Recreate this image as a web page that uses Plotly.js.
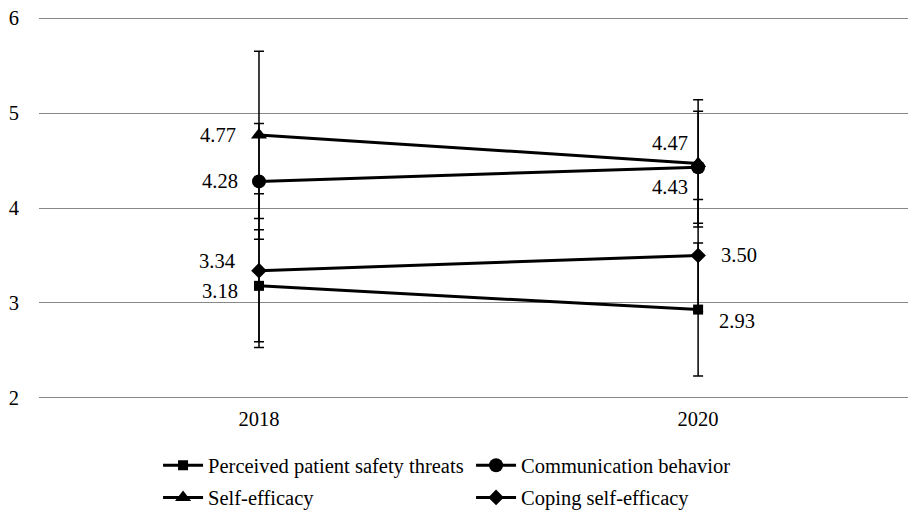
<!DOCTYPE html>
<html>
<head>
<meta charset="utf-8">
<script src="https://cdn.plot.ly/plotly-3.0.1.min.js"></script>
<style>html,body{margin:0;padding:0;background:#fff;}#chart{width:908px;height:511px;}</style>
</head>
<body>
<div id="chart"></div>
<script>
// ---- data ----
const years = ['2018', '2020'];
const seriesNames = ['Perceived patient safety threats', 'Communication behavior', 'Self-efficacy', 'Coping self-efficacy'];
const perceived = [3.18, 2.93];
const communication = [4.28, 4.43];
const selfEfficacy = [4.77, 4.47];
const coping = [3.34, 3.50];
const perceivedSD = [0.59, 0.70];
const communicationSD = [0.61, 0.59];
const selfEfficacySD = [0.88, 0.67];
const copingSD = [0.81, 0.59];
const yTicks = [2, 3, 4, 5, 6];

// ---- styles ----
const font = 'Liberation Serif';
const xIdx = years.map((_, i) => i);
const symbols = ['square', 'circle', 'triangle-up', 'diamond'];
const sizes = [10, 14, 14, 12];
const values = [perceived, communication, selfEfficacy, coping];
const sds = [perceivedSD, communicationSD, selfEfficacySD, copingSD];
const legendIds = ['legend', 'legend', 'legend2', 'legend2'];
// label placement per series/point: [xanchor, xshift, yshift]
const labelPlace = [
  [['right', -19, -5], ['left', 19, -11]],
  [['right', -19, 0], ['right', -8, -20]],
  [['right', -21, 0], ['right', -8, 20]],
  [['right', -22, 10], ['left', 21, 0]]
];

const traces = values.map((v, s) => ({
  x: xIdx, y: v, name: seriesNames[s], type: 'scatter', mode: 'lines+markers',
  line: {color: '#000', width: 3},
  marker: {symbol: symbols[s], size: sizes[s], color: '#000'},
  error_y: {type: 'data', array: sds[s], visible: true, color: '#000', thickness: 1.5, width: 5},
  legend: legendIds[s], showlegend: true, cliponaxis: false
}));

const annotations = [];
values.forEach((v, s) => v.forEach((val, i) => {
  const p = labelPlace[s][i];
  annotations.push({x: xIdx[i], y: val, xref: 'x', yref: 'y', text: val.toFixed(2),
    showarrow: false, xanchor: p[0], yanchor: 'middle', xshift: p[1], yshift: p[2],
    font: {family: font, size: 20.5, color: '#000'}});
}));

const legendCommon = {orientation: 'h', x: 0.137, xanchor: 'left', yanchor: 'middle', entrywidth: 258, entrywidthmode: 'pixels',
  font: {family: font, size: 20.5, color: '#000'}, bgcolor: 'rgba(0,0,0,0)', traceorder: 'normal', itemwidth: 40};

const layout = {
  width: 908, height: 511,
  margin: {l: 39, r: 0, t: 17, b: 112, autoexpand: false},
  paper_bgcolor: '#fff', plot_bgcolor: '#fff',
  font: {family: font, size: 16, color: '#000'},
  xaxis: {range: [-0.501, 1.478], tickvals: xIdx, ticktext: years, showgrid: false, zeroline: false,
    showline: false, ticks: '', ticklabelstandoff: 5, tickfont: {family: font, size: 20.5, color: '#000'}},
  yaxis: {range: [1.988, 6.012], tickvals: yTicks, showgrid: true, gridcolor: '#888', gridwidth: 1,
    zeroline: false, showline: false, ticks: '', ticklabelstandoff: 19, tickfont: {family: font, size: 20.5, color: '#000'}},
  showlegend: true,
  legend: Object.assign({}, legendCommon, {y: -0.174}),
  legend2: Object.assign({}, legendCommon, {y: -0.258}),
  annotations: annotations
};

Plotly.newPlot('chart', traces, layout, {displayModeBar: false, staticPlot: true});
</script>
</body>
</html>
